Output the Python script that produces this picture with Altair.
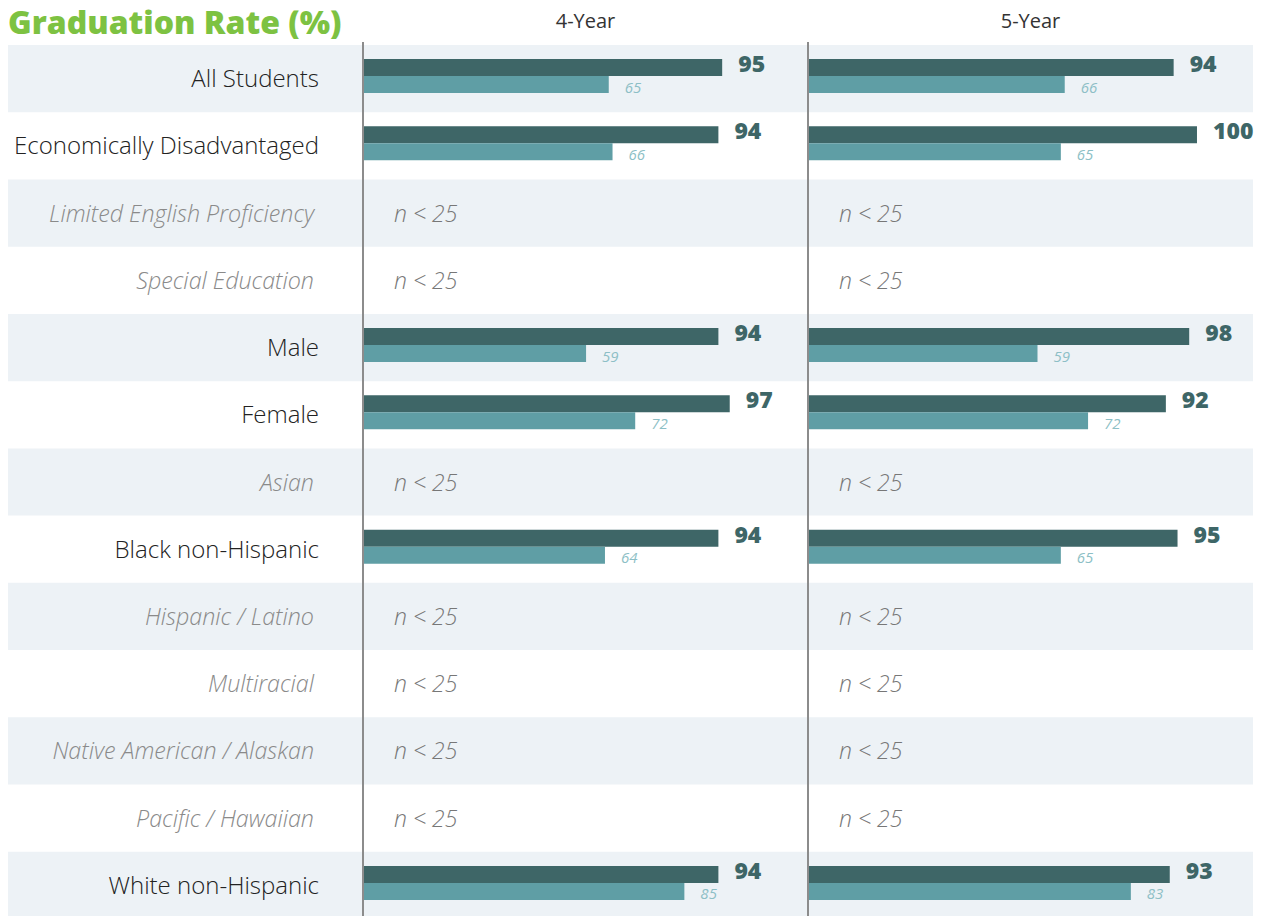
import altair as alt
import pandas as pd

categories = [
    "All Students", "Economically Disadvantaged", "Limited English Proficiency",
    "Special Education", "Male", "Female", "Asian", "Black non-Hispanic",
    "Hispanic / Latino", "Multiracial", "Native American / Alaskan",
    "Pacific / Hawaiian", "White non-Hispanic",
]
four_year_school = [95, 94, None, None, 94, 97, None, 94, None, None, None, None, 94]
four_year_state = [65, 66, None, None, 59, 72, None, 64, None, None, None, None, 85]
five_year_school = [94, 100, None, None, 98, 92, None, 95, None, None, None, None, 93]
five_year_state = [66, 65, None, None, 59, 72, None, 65, None, None, None, None, 83]
panel_titles = ["4-Year", "5-Year"]
chart_title = "Graduation Rate (%)"
suppressed_text = "n < 25"

ROW_H = 67.25
H = round(ROW_H * len(categories))
LABEL_W = 355
PANEL_W = 445

DARK = "#3e6667"
LIGHT = "#5f9ea5"
BAND = "#edf2f6"
FONT = "Open Sans"

df = pd.DataFrame({
    "category": categories,
    "row": list(range(len(categories))),
    "y4s": four_year_school,
    "y4t": four_year_state,
    "y5s": five_year_school,
    "y5t": five_year_state,
})
df["shaded"] = df["row"] % 2 == 0
df["suppressed"] = df["y4s"].isna()

base = alt.Chart(df)
yenc = alt.Y("category:N", axis=None,
             scale=alt.Scale(domain=categories, paddingInner=0, paddingOuter=0))


def bands(width):
    return base.transform_filter("datum.shaded").mark_rect(color=BAND).encode(
        y=yenc, x=alt.value(0), x2=alt.value(width)
    )


label_normal = base.transform_filter("!datum.suppressed").mark_text(
    align="right", baseline="middle", font=FONT, fontSize=24, fontWeight=300,
    color="#222222", dy=1.5
).encode(y=yenc, x=alt.value(311), text="category:N")

label_supp = base.transform_filter("datum.suppressed").mark_text(
    align="right", baseline="middle", font=FONT, fontSize=23.3, fontWeight=300,
    fontStyle="italic", color="#8a8a8a", dy=1.5
).encode(y=yenc, x=alt.value(306), text="category:N")

label_panel = alt.layer(bands(LABEL_W), label_normal, label_supp).properties(
    width=LABEL_W, height=H,
    title=alt.TitleParams(chart_title, anchor="start", fontSize=32, font=FONT,
                          fontWeight=800, color="#7dc242", baseline="alphabetic",
                          offset=-21),
)


def panel(school, state, dmax, title):
    xs = alt.X(f"{school}:Q", scale=alt.Scale(domain=[0, dmax]), axis=None)
    xt = alt.X(f"{state}:Q", scale=alt.Scale(domain=[0, dmax]), axis=None)
    valid = base.transform_filter(f"isValid(datum.{school})")
    dark = valid.mark_bar(height=17, yOffset=-11, color=DARK).encode(y=yenc, x=xs)
    light = valid.mark_bar(height=17, yOffset=6, color=LIGHT).encode(y=yenc, x=xt)
    rule = base.transform_filter("datum.row == 0").mark_rule(
        color="#8c8c8c", strokeWidth=2
    ).encode(x=alt.value(0), y=alt.value(-3), y2=alt.value(H))
    dark_txt = valid.mark_text(
        align="left", baseline="alphabetic", dx=16, dy=-6.5, font=FONT,
        fontSize=23, fontWeight=800, color=DARK
    ).encode(y=yenc, x=xs, text=alt.Text(f"{school}:Q", format="d"))
    light_txt = valid.mark_text(
        align="left", baseline="alphabetic", dx=16, dy=14, font=FONT,
        fontSize=15, fontStyle="italic", color="#8dbfc6"
    ).encode(y=yenc, x=xt, text=alt.Text(f"{state}:Q", format="d"))
    supp = base.transform_filter("datum.suppressed").mark_text(
        align="left", baseline="middle", font=FONT, fontSize=23, fontWeight=300,
        fontStyle="italic", color="#777777", dy=1.5
    ).encode(y=yenc, x=alt.value(31), text=alt.value(suppressed_text))
    return alt.layer(bands(PANEL_W), dark, light, rule, dark_txt, light_txt, supp).properties(
        width=PANEL_W, height=H,
        title=alt.TitleParams(title, anchor="middle", fontSize=20, font=FONT,
                              fontWeight=400, color="#333333", baseline="alphabetic",
                              offset=-7),
    )


chart = alt.hconcat(
    label_panel,
    panel("y4s", "y4t", 117.7, panel_titles[0]),
    panel("y5s", "y5t", 114.4, panel_titles[1]),
    spacing=0, bounds="flush",
).properties(padding=0).configure_view(stroke=None)

chart.save("out.html", embed_options={"renderer": "svg", "actions": False})
